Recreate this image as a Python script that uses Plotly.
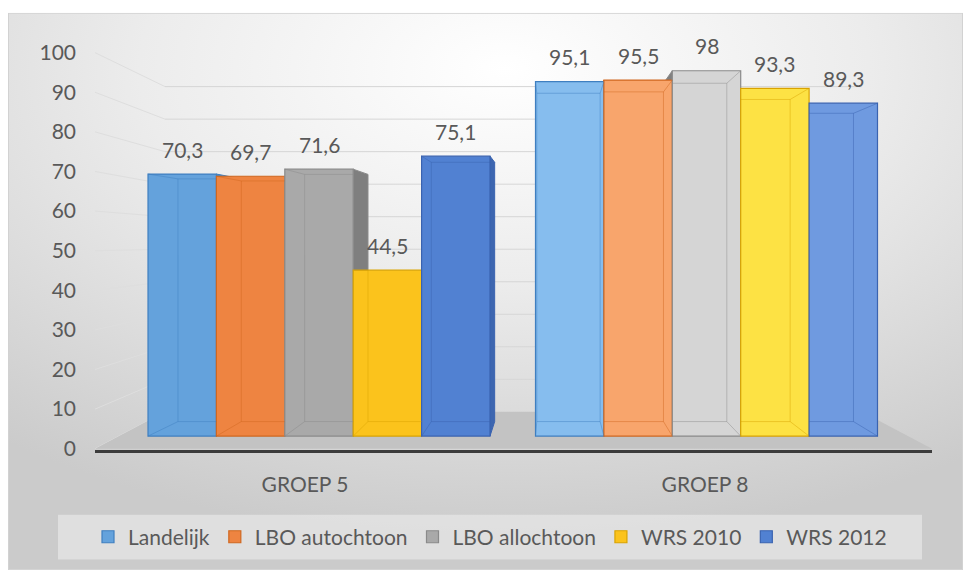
import base64
import plotly.graph_objects as go

# ---- data -------------------------------------------------------------
groups = ["GROEP 5", "GROEP 8"]
series_names = ["Landelijk", "LBO autochtoon", "LBO allochtoon", "WRS 2010", "WRS 2012"]
landelijk = [70.3, 95.1]
lbo_autochtoon = [69.7, 95.5]
lbo_allochtoon = [71.6, 98.0]
wrs_2010 = [44.5, 93.3]
wrs_2012 = [75.1, 89.3]
y_ticks = list(range(0, 101, 10))

series_values = [landelijk, lbo_autochtoon, lbo_allochtoon, wrs_2010, wrs_2012]

# ---- styling ----------------------------------------------------------
# front-face colours per series: (groep 5, groep 8), outline, side face
face_colors = [
    ("#64a2dc", "#86bdee"),
    ("#ee8441", "#f8a56c"),
    ("#a9a9a9", "#d5d5d5"),
    ("#fbc31c", "#fde244"),
    ("#5181d2", "#6f9ae0"),
]
edge_colors = ["#3f7fc0", "#d0671f", "#8a8a8a", "#d9a300", "#3a63b0"]
side_colors = ["#4a86c2", "#c9662a", "#7f7f7f", "#d9a300", "#3d66b0"]

FONT = "Lato"
TEXT_COLOR = "#595959"
FS = 21

W, H = 968, 583
L, R, T, B = 95, 932, 40, 456          # plot area in pixels


def fx(p):
    return p / W


def fy(p):
    return 1 - p / H


# horizontal scale of the bars: group centres and pixels per category unit
G0_PX, UNIT = 319.0, 387.5
BAR_W = 68.4 / UNIT
x_range = [(L - G0_PX) / UNIT, (R - G0_PX) / UNIT]

# vertical scale of the bar fronts (base line and pixels per unit)
BASE_PX, PPU = 442.0, 3.84
y_range = [(BASE_PX - B) / PPU, (BASE_PX - T) / PPU]

# front (label) scale of the value axis
LBL0_PX, LBL_PPU = 455.0, 4.08
y2_range = [(LBL0_PX - B) / LBL_PPU, (LBL0_PX - T) / LBL_PPU]

# back wall scale for gridlines
WALL0_PX, WALL_PPU = 417.0, 3.35
WALL_L, WALL_R = 165, 862

# category label axis
G0_LBL_PX, UNIT_LBL = 305.0, 400.0
x2_range = [(L - G0_LBL_PX) / UNIT_LBL, (R - G0_LBL_PX) / UNIT_LBL]

# perspective: back faces of the columns shrink towards a vanishing point
VP_X = (553.0 - G0_PX) / UNIT
VP_Y = (BASE_PX - 239.5) / PPU
DEPTH = 0.926


def fmt(v):
    return f"{v:g}".replace(".", ",")


def back(x, y):
    return VP_X + DEPTH * (x - VP_X), VP_Y + DEPTH * (y - VP_Y)


fig = go.Figure()

shapes = []

# gridlines: diagonal on the side wall, horizontal on the back wall
for v in y_ticks:
    front = LBL0_PX - LBL_PPU * v
    bk = WALL0_PX - WALL_PPU * v
    shapes.append(dict(type="line", xref="paper", yref="paper",
                       x0=fx(L), y0=fy(front), x1=fx(WALL_L), y1=fy(bk),
                       line=dict(color="#dedede", width=1), layer="below"))
    if v > 0:
        shapes.append(dict(type="line", xref="paper", yref="paper",
                           x0=fx(WALL_L), y0=fy(bk), x1=fx(WALL_R), y1=fy(bk),
                           line=dict(color="#d6d6d6", width=1), layer="below"))

# floor
shapes.append(dict(
    type="path", xref="paper", yref="paper",
    path=(f"M{fx(L)},{fy(455)} L{fx(R)},{fy(455)} "
          f"L{fx(WALL_R)},{fy(WALL0_PX)} L{fx(WALL_L)},{fy(WALL0_PX)} Z"),
    fillcolor="#c3c3c3", line=dict(width=0), layer="below"))


def seg(xa, ya, xb, yb, color):
    return dict(type="line", xref="x", yref="y", x0=xa, y0=ya, x1=xb, y1=yb,
                line=dict(color=color, width=1), opacity=0.45, layer="above")


n = len(series_names)
annotations = []
for i, (name, vals) in enumerate(zip(series_names, series_values)):
    off = (i - (n - 1) / 2) * BAR_W
    xs = [g + off for g in range(len(groups))]
    fig.add_trace(go.Bar(
        x=xs, y=vals, width=BAR_W, name=name,
        marker=dict(color=list(face_colors[i]),
                    line=dict(color=edge_colors[i], width=1.2)),
        hoverinfo="skip",
    ))
    for x, v in zip(xs, vals):
        annotations.append(dict(
            x=x, y=v, xref="x", yref="y", text=fmt(v), showarrow=False,
            yanchor="middle", yshift=25,
            font=dict(family=FONT, size=FS, color=TEXT_COLOR)))

        x0, x1 = x - BAR_W / 2, x + BAR_W / 2
        bx0, by0 = back(x0, 0)
        bx1, by1 = back(x1, v)

        # side face facing the vanishing point (hidden where a neighbour is taller)
        if bx1 > x1:
            shapes.append(dict(
                type="path", xref="x", yref="y",
                path=f"M{x1},{v} L{bx1},{by1} L{bx1},{by0} L{x1},0 Z",
                fillcolor=side_colors[i], line=dict(color=edge_colors[i], width=1),
                layer="below"))
        if bx0 < x0:
            shapes.append(dict(
                type="path", xref="x", yref="y",
                path=f"M{x0},{v} L{bx0},{by1} L{bx0},{by0} L{x0},0 Z",
                fillcolor=side_colors[i], line=dict(color=edge_colors[i], width=1),
                layer="below"))

        # back edges seen through the front face
        ec = edge_colors[i]
        cx0, cx1 = max(bx0, x0), min(bx1, x1)
        cy0, cy1 = max(by0, 0), min(by1, v)
        if x0 < bx0 < x1:
            shapes.append(seg(bx0, cy0, bx0, cy1, ec))
        if x0 < bx1 < x1:
            shapes.append(seg(bx1, cy0, bx1, cy1, ec))
        if 0 < by0 < v:
            shapes.append(seg(cx0, by0, cx1, by0, ec))
        if 0 < by1 < v:
            shapes.append(seg(cx0, by1, cx1, by1, ec))
        for fxc, fyc, bxc, byc in ((x0, 0, bx0, by0), (x1, 0, bx1, by0),
                                   (x0, v, bx0, by1), (x1, v, bx1, by1)):
            if x0 <= bxc <= x1 and 0 <= byc <= v:
                shapes.append(seg(fxc, fyc, bxc, byc, ec))

# invisible trace so the overlay axes are laid out
fig.add_trace(go.Scatter(x=[0, 1], y=[0, 100], xaxis="x2", yaxis="y2",
                         mode="markers", marker=dict(opacity=0),
                         showlegend=False, hoverinfo="skip"))

# legend panel
shapes.append(dict(type="rect", xref="paper", yref="paper",
                   x0=fx(58), y0=fy(569), x1=fx(922), y1=fy(523),
                   fillcolor="rgba(255,255,255,0.38)", line=dict(width=0),
                   layer="below"))

# background of the chart area
svg = (
    '<svg xmlns="http://www.w3.org/2000/svg" width="955" height="574">'
    '<defs><radialGradient id="g" cx="52%" cy="10%" r="85%">'
    '<stop offset="0" stop-color="#ffffff"/>'
    '<stop offset="0.45" stop-color="#ececec"/>'
    '<stop offset="1" stop-color="#cbcbcb"/>'
    '</radialGradient></defs>'
    '<rect x="0.5" y="0.5" width="954" height="573" fill="url(#g)" stroke="#d2d2d2"/>'
    '</svg>'
)
bg_src = "data:image/svg+xml;base64," + base64.b64encode(svg.encode()).decode()

fig.update_layout(
    width=W, height=H,
    margin=dict(l=0, r=0, t=0, b=0),
    paper_bgcolor="#ffffff",
    plot_bgcolor="rgba(0,0,0,0)",
    barmode="overlay",
    font=dict(family=FONT, size=FS, color=TEXT_COLOR),
    hovermode=False,
    images=[dict(source=bg_src, xref="paper", yref="paper",
                 x=fx(8), y=fy(6), sizex=955 / W, sizey=574 / H,
                 xanchor="left", yanchor="top", sizing="stretch",
                 layer="below")],
    xaxis=dict(domain=[fx(L), fx(R)], range=x_range, anchor="y",
               showticklabels=False, showgrid=False, zeroline=False,
               showline=True, linecolor="#3c3c3c", linewidth=3, ticks=""),
    xaxis2=dict(domain=[fx(L), fx(R)], range=x2_range, overlaying="x",
                anchor="y", side="bottom", tickvals=[0, 1], ticktext=groups,
                showgrid=False, zeroline=False, showline=False, ticks="",
                ticklabelstandoff=20,
                tickfont=dict(family=FONT, size=FS, color=TEXT_COLOR)),
    yaxis=dict(domain=[fy(B), fy(T)], range=y_range, anchor="x",
               showticklabels=False, showgrid=False, zeroline=False),
    yaxis2=dict(domain=[fy(B), fy(T)], range=y2_range, overlaying="y",
                anchor="x", side="left", tickvals=y_ticks,
                showgrid=False, zeroline=False, showline=False, ticks="",
                ticklabelstandoff=18,
                tickfont=dict(family=FONT, size=FS, color=TEXT_COLOR)),
    legend=dict(orientation="h", x=fx(490), xanchor="center",
                y=fy(546), yanchor="middle", bgcolor="rgba(0,0,0,0)",
                font=dict(family=FONT, size=FS, color=TEXT_COLOR),
                traceorder="normal"),
    shapes=shapes,
    annotations=annotations,
)

fig.write_html("out.html")
